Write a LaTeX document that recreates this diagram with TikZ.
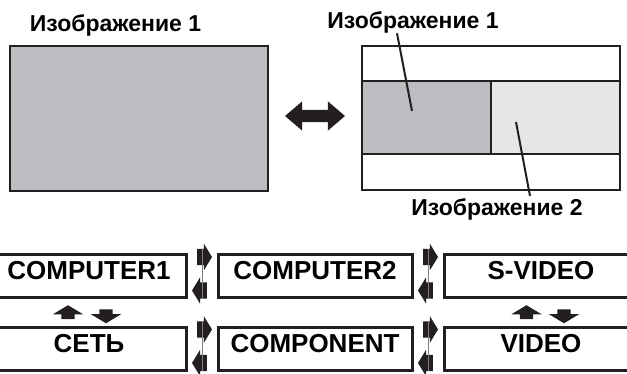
\documentclass[tikz,border=0pt]{standalone}
\usepackage{fontspec}
\setmainfont{Liberation Sans}
\usetikzlibrary{positioning,shapes.arrows,calc}
\definecolor{inkblack}{RGB}{35,31,32}
\definecolor{screengray}{RGB}{188,189,193}
\definecolor{screenlight}{RGB}{230,230,232}
\tikzset{
  srcbox/.style={draw=inkblack, line width=3pt,
    minimum width=194pt, minimum height=43pt, inner sep=0pt,
    text height=17pt, text depth=10pt,
    font=\fontsize{26}{30}\selectfont\bfseries},
  screen/.style={draw=inkblack, line width=2pt, inner sep=0pt},
  caption/.style={anchor=base, inner sep=0pt,
    font=\fontsize{23}{27}\selectfont\bfseries},
  lead/.style={draw=inkblack, line width=2pt},
  nextarr/.style={single arrow, fill=inkblack, inner xsep=0pt, inner ysep=8pt,
    minimum height=15pt, minimum width=26pt,
    single arrow head extend=5pt, single arrow tip angle=117},
  rowarr/.style={single arrow, fill=inkblack, inner xsep=6.5pt, inner ysep=0pt,
    minimum height=14pt, minimum width=30pt,
    single arrow head extend=8.5pt, single arrow tip angle=118},
  seam/.style={draw=gray, line width=0.4pt},
}

\begin{document}
\begin{tikzpicture}[x=1pt, y=-1pt, node distance=26.5pt and 29pt]
  \useasboundingbox (0,0) rectangle (627,374);

  % Single picture
  \node[screen, fill=screengray, minimum width=258pt, minimum height=145pt]
    (single) at (139,118.5) {};
  \node[caption] (capone) at (115.5,32) {Изображение 1};

  \node[double arrow, fill=inkblack, inner xsep=0pt, inner ysep=6pt,
        minimum height=60pt, minimum width=29pt,
        double arrow head extend=8.5pt, double arrow tip angle=81]
    (swap) at (315,116) {};

  % Two pictures
  \node[screen, fill=white, minimum width=258pt, minimum height=144pt]
    (split) at (491,118) {};
  \node[screen, fill=screengray, minimum width=129pt, minimum height=73pt]
    (picleft) at (426.5,117.5) {};
  \node[screen, fill=screenlight, minimum width=129pt, minimum height=73pt]
    (picright) at (555.5,117.5) {};

  \node[caption] (captop) at (413,28.3) {Изображение 1};
  \node[caption] (capbot) at (497,216) {Изображение 2};
  \coordinate (pinone) at (412,111);
  \coordinate (pintwo) at (516,122);
  \draw[lead] ([xshift=-16pt]captop.south) -- (pinone);
  \draw[lead] ([xshift=33pt,yshift=3pt]capbot.north) -- (pintwo);

  % Sources
  \node[srcbox] (pc1) at (89,276.5) {COMPUTER1};
  \node[srcbox, right=of pc1] (pc2) {COMPUTER2};
  \node[srcbox, right=of pc2] (svid) {S-VIDEO};
  \node[srcbox, below=of pc1] (lan) {СЕТЬ};
  \node[srcbox, right=of lan] (comp) {COMPONENT};
  \node[srcbox, right=of comp] (vid) {VIDEO};

  % Switch arrows
  \node[nextarr] (fwdA) at ($(pc1.east)!0.5!(pc2.west)+(0,-19.5)$) {};
  \node[nextarr, shape border rotate=180] (backA)
    at ($(pc1.east)!0.5!(pc2.west)+(0,14)$) {};
  \draw[seam] (fwdA.north) -- (backA.south);
  \node[nextarr] (fwdB) at ($(pc2.east)!0.5!(svid.west)+(0,-19.5)$) {};
  \node[nextarr, shape border rotate=180] (backB)
    at ($(pc2.east)!0.5!(svid.west)+(0,14)$) {};
  \draw[seam] (fwdB.north) -- (backB.south);
  \node[nextarr] (fwdC) at ($(lan.east)!0.5!(comp.west)+(0,-19.5)$) {};
  \node[nextarr, shape border rotate=180] (backC)
    at ($(lan.east)!0.5!(comp.west)+(0,14)$) {};
  \draw[seam] (fwdC.north) -- (backC.south);
  \node[nextarr] (fwdD) at ($(comp.east)!0.5!(vid.west)+(0,-19.5)$) {};
  \node[nextarr, shape border rotate=180] (backD)
    at ($(comp.east)!0.5!(vid.west)+(0,14)$) {};
  \draw[seam] (fwdD.north) -- (backD.south);

  % Row arrows
  \node[rowarr, shape border rotate=90] (upA)
    at ($(pc1.south)!0.5!(lan.north)+(-21,1.5)$) {};
  \node[rowarr, shape border rotate=270] (downA)
    at ($(pc1.south)!0.5!(lan.north)+(17,1.5)$) {};
  \node[rowarr, shape border rotate=90] (upB)
    at ($(svid.south)!0.5!(vid.north)+(-14.5,1.5)$) {};
  \node[rowarr, shape border rotate=270] (downB)
    at ($(svid.south)!0.5!(vid.north)+(23,1.5)$) {};
\end{tikzpicture}
\end{document}
